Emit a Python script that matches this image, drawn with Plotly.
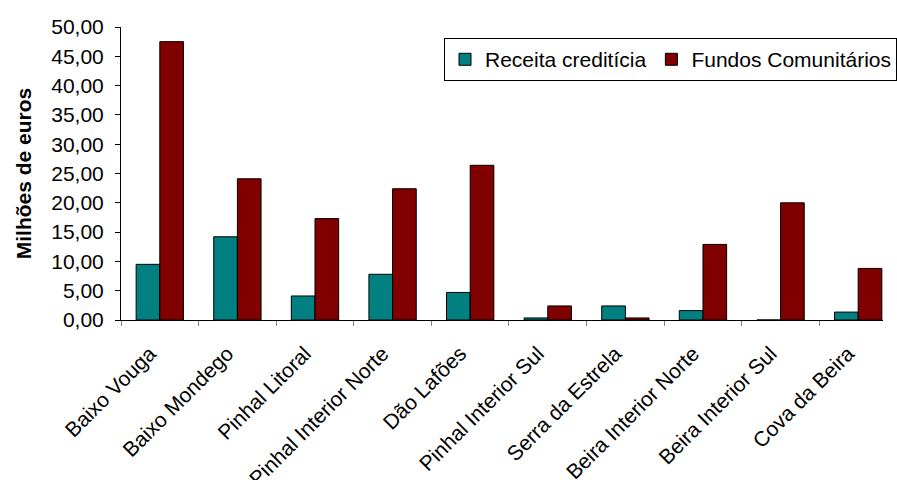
import plotly.graph_objects as go

regioes = ["Baixo Vouga", "Baixo Mondego", "Pinhal Litoral", "Pinhal Interior Norte",
           "Dão Lafões", "Pinhal Interior Sul", "Serra da Estrela",
           "Beira Interior Norte", "Beira Interior Sul", "Cova da Beira"]
receita_crediticia = [9.5, 14.2, 4.1, 7.8, 4.7, 0.35, 2.4, 1.6, 0.0, 1.35]
fundos_comunitarios = [47.5, 24.1, 17.3, 22.4, 26.4, 2.4, 0.35, 12.9, 20.0, 8.8]

FONT = "Liberation Sans, Arial, sans-serif"

fig = go.Figure()
fig.add_trace(go.Bar(
    x=regioes, y=receita_crediticia, name="Receita creditícia",
    marker=dict(color="#008080", line=dict(color="black", width=1))
))
fig.add_trace(go.Bar(
    x=regioes, y=fundos_comunitarios, name="Fundos Comunitários",
    marker=dict(color="#800000", line=dict(color="black", width=1))
))

fig.update_layout(
    width=897, height=480,
    margin=dict(l=121, r=0, t=27, b=160),
    paper_bgcolor="white", plot_bgcolor="white",
    font=dict(family=FONT, size=21, color="black"),
    separators=",.",
    barmode="group", bargap=0.39, bargroupgap=0,
    showlegend=True,
    legend=dict(
        orientation="h", x=0.424, y=0.962, xanchor="left", yanchor="top",
        bordercolor="black", borderwidth=1, bgcolor="white",
        font=dict(size=21), itemwidth=30, tracegroupgap=0,
    ),
)
fig.update_xaxes(
    range=[-0.5, 9.32], showgrid=False, showline=True, linecolor="black",
    ticks="outside", ticklen=5, tickcolor="gray", tickson="boundaries",
    tickangle=-45, tickfont=dict(size=21), automargin=False,
    ticklabelstandoff=12, ticklabelshift=-10,
)
fig.update_yaxes(
    range=[0, 50], dtick=5, tickformat=".2f", showgrid=False, zeroline=False,
    showline=True, linecolor="black", ticks="outside", ticklen=5,
    tickcolor="black", tickfont=dict(size=21), automargin=False,
    ticklabelstandoff=7,
    title=dict(text="<b>Milhões de euros</b>", font=dict(size=21), standoff=13),
)

# the page's default body margin would offset the figure by 8px
fig.write_html("out.html", config={"displayModeBar": False},
               post_script="document.body.style.margin='0';")
